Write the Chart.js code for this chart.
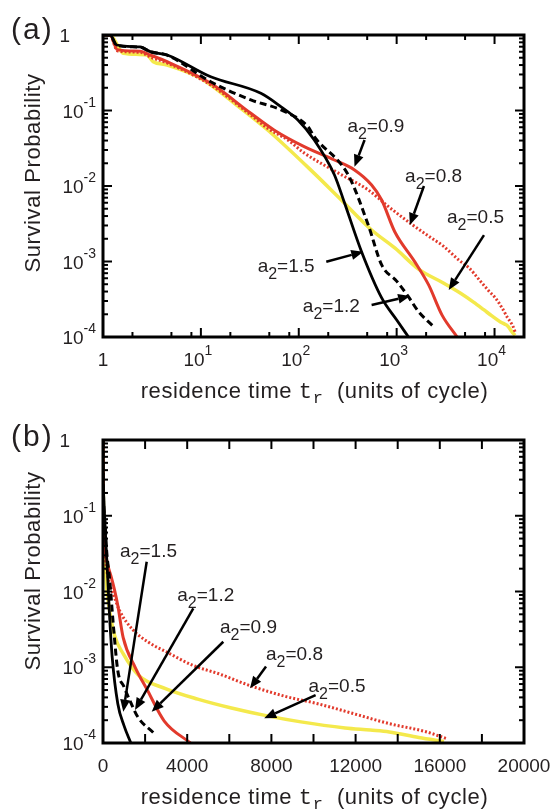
<!DOCTYPE html>
<html>
<head>
<meta charset="utf-8">
<script src="https://cdn.jsdelivr.net/npm/chart.js@4.4.1/dist/chart.umd.min.js"></script>
<style>
  html, body { margin: 0; padding: 0; background: #fff; }
  .panel { width: 556px; height: 405px; }
</style>
</head>
<body>
<div class="panel"><canvas id="chartA" width="556" height="405"></canvas></div>
<div class="panel"><canvas id="chartB" width="556" height="405"></canvas></div>
<script>
// residence time (cycles) and survival probability, one pair per a2
const t15 = [1, 1.18, 1.38, 2.4, 3.04, 4.52, 12.6, 41, 66, 98, 144, 231, 293, 438, 703, 1002, 1322];
const p15 = [1, 1, 0.737, 0.694, 0.601, 0.543, 0.28, 0.169, 0.112, 0.0749, 0.0407, 0.0141, 0.006, 0.00135, 0.00033, 0.000168, 0.0001];

const t12 = [1, 1.18, 1.38, 2.4, 3.04, 4.52, 12.6, 32.4, 66, 124, 144, 320, 513, 703, 1000, 1322, 1675, 2389];
const p12 = [1, 1, 0.73, 0.69, 0.6, 0.54, 0.24, 0.138, 0.1016, 0.061, 0.045, 0.014, 0.00304, 0.0009, 0.00055, 0.00034, 0.000216, 0.000137];

const t09 = [1, 1.18, 1.4, 2.4, 3.04, 4.52, 12.6, 32.4, 55.8, 113.6, 231, 371, 555, 703, 956, 1534, 2122, 2910, 4150];
const p09 = [1, 1, 0.64, 0.61, 0.543, 0.443, 0.229, 0.0918, 0.0552, 0.0332, 0.0221, 0.0163, 0.0103, 0.00653, 0.00248, 0.00099, 0.00049, 0.000195, 0.0001];

const t08 = [1, 1.18, 1.4, 2.4, 3.04, 4.52, 12.6, 32.4, 48.1, 77.3, 113.6, 252, 513, 800, 1430, 2200, 3000, 4300, 5500, 7000, 8700, 10200, 12000, 13600, 15300, 16300];
const p08 = [1, 1, 0.62, 0.59, 0.51, 0.426, 0.218, 0.0871, 0.0581, 0.0407, 0.0274, 0.0149, 0.00885, 0.0055, 0.0031, 0.0021, 0.0016, 0.00105, 0.00082, 0.00057, 0.00041, 0.00033, 0.00024, 0.00018, 0.000142, 0.000115];

const t05 = [1, 1.18, 1.61, 2.81, 3.26, 4.52, 9.93, 21.7, 48.1, 144, 252, 555, 964, 1700, 3000, 4500, 6100, 7750, 9400, 11500, 12700, 13600, 15000, 16200];
const p05 = [1, 1, 0.573, 0.543, 0.443, 0.401, 0.267, 0.126, 0.0552, 0.0147, 0.0072, 0.00261, 0.0015, 0.00078, 0.00052, 0.00038, 0.00029, 0.00023, 0.00019, 0.000158, 0.000148, 0.00014, 0.000118, 0.000105];

// tick labels
const yTickVals = [1, 0.1, 0.01, 0.001, 0.0001];
const yTickLabels = ['1', '10^-1', '10^-2', '10^-3', '10^-4'];
const xTickValsA = [1, 10, 100, 1000, 10000];
const xTickLabelsA = ['1', '10^1', '10^2', '10^3', '10^4'];
const xTickValsB = [0, 4000, 8000, 12000, 16000, 20000];
const xTickLabelsB = ['0', '4000', '8000', '12000', '16000', '20000'];

// labels with arrows, in data units: [t, p]
const notesA = [
  { val: '0.9', text: [314, 0.0519], tail: [470, 0.0407], head: [371, 0.018] },
  { val: '0.8', text: [1220, 0.0114], tail: [1900, 0.01], head: [1364, 0.00304] },
  { val: '0.5', text: [3273, 0.00324], tail: [7800, 0.00224], head: [3405, 0.00042] },
  { val: '1.5', text: [38, 0.000726], tail: [191, 0.00099], head: [456, 0.00135] },
  { val: '1.2', text: [110, 0.000216], tail: [555, 0.000265], head: [1373, 0.000349] }
];
const notesB = [
  { val: '1.5', text: [808, 0.0285], tail: [2076, 0.0247], head: [964, 0.000259] },
  { val: '1.2', text: [3530, 0.0075], tail: [4290, 0.006], head: [1520, 0.000273] },
  { val: '0.9', text: [5559, 0.00283], tail: [5715, 0.00217], head: [2314, 0.000259] },
  { val: '0.8', text: [7744, 0.00125], tail: [7744, 0.00102], head: [6984, 0.000527] },
  { val: '0.5', text: [9763, 0.000475], tail: [10100, 0.00043], head: [7659, 0.000212] }
];

const SANS = '"Liberation Sans", Arial, Helvetica, sans-serif';
const MONO = '"Liberation Mono", "DejaVu Sans Mono", monospace';
const INK = '#231f20';
const RED = '#e23a2c';
const YELLOW = '#f4e94c';

const series = [
  { t: t15, p: p15, color: '#000', width: 2.8, dash: [] },
  { t: t12, p: p12, color: '#000', width: 3, dash: [7, 4] },
  { t: t09, p: p09, color: RED, width: 3, dash: [] },
  { t: t08, p: p08, color: RED, width: 3, dash: [2, 2] },
  { t: t05, p: p05, color: YELLOW, width: 3.5, dash: [] }
];

function datasets() {
  return series.map(s => ({
    data: s.t.map((t, i) => ({ x: t, y: s.p[i] })),
    borderColor: s.color,
    borderWidth: s.width,
    borderDash: s.dash,
    pointRadius: 0,
    cubicInterpolationMode: 'monotone',
    fill: false
  }));
}

function drawRuns(ctx, runs, x, y, align) {
  let w = 0;
  runs.forEach(r => { ctx.font = r.font; w += ctx.measureText(r.t).width; });
  let cx = align === 'right' ? x - w : align === 'center' ? x - w / 2 : x;
  runs.forEach(r => {
    ctx.font = r.font;
    ctx.fillText(r.t, cx, y + (r.dy || 0));
    cx += ctx.measureText(r.t).width;
  });
}

function powRuns(label) {
  const [base, exp] = label.split('^');
  const runs = [{ t: base, font: '19px ' + SANS }];
  if (exp) runs.push({ t: exp, font: '14px ' + SANS, dy: -11 });
  return runs;
}

function arrow(ctx, x1, y1, x2, y2) {
  const ang = Math.atan2(y2 - y1, x2 - x1);
  const len = 12, half = 5;
  const bx = x2 - len * Math.cos(ang), by = y2 - len * Math.sin(ang);
  ctx.lineWidth = 2.5;
  ctx.beginPath(); ctx.moveTo(x1, y1); ctx.lineTo(bx, by); ctx.stroke();
  ctx.beginPath();
  ctx.moveTo(x2, y2);
  ctx.lineTo(bx + half * Math.sin(ang), by - half * Math.cos(ang));
  ctx.lineTo(bx - half * Math.sin(ang), by + half * Math.cos(ang));
  ctx.closePath(); ctx.fill();
}

const deco = {
  id: 'deco',
  afterDatasetsDraw(chart, args, o) {
    const { ctx, chartArea: a } = chart;
    const xs = chart.scales.x, ys = chart.scales.y;
    ctx.save();
    ctx.strokeStyle = '#000';
    ctx.fillStyle = '#000';
    ctx.lineWidth = 2;
    const tick = (x1, y1, x2, y2) => { ctx.beginPath(); ctx.moveTo(x1, y1); ctx.lineTo(x2, y2); ctx.stroke(); };

    // y ticks (log), both sides
    for (let d = -4; d <= 0; d++) {
      const py = ys.getPixelForValue(Math.pow(10, d));
      tick(a.left, py, a.left + 9, py);
      tick(a.right, py, a.right - 9, py);
      if (d === 0) continue;
      for (let m = 2; m <= 9; m++) {
        const my = ys.getPixelForValue(m * Math.pow(10, d));
        tick(a.left, my, a.left + 5, my);
        tick(a.right, my, a.right - 5, my);
      }
    }

    // x ticks
    o.xMajor.forEach(v => {
      const px = xs.getPixelForValue(v);
      tick(px, a.bottom, px, a.bottom - 9);
      tick(px, a.top, px, a.top + 9);
    });
    o.xMinorBottom.forEach(v => {
      const px = xs.getPixelForValue(v);
      tick(px, a.bottom, px, a.bottom - 5);
    });
    o.xMinorTop.forEach(v => {
      const px = xs.getPixelForValue(v);
      tick(px, a.top, px, a.top + 5);
    });

    // frame
    ctx.lineWidth = 3;
    ctx.strokeRect(a.left, a.top, a.right - a.left, a.bottom - a.top);

    // tick labels
    ctx.fillStyle = INK;
    ctx.textBaseline = 'alphabetic';
    ctx.textAlign = 'left';
    yTickVals.forEach((v, i) => {
      const py = ys.getPixelForValue(v) + 7;
      if (yTickLabels[i] === '1') drawRuns(ctx, powRuns('1'), a.left - 33, py, 'right');
      else drawRuns(ctx, powRuns(yTickLabels[i]), a.left - 7, py, 'right');
    });
    o.xVals.forEach((v, i) => {
      const px = xs.getPixelForValue(v);
      const lab = o.xLabels[i];
      drawRuns(ctx, powRuns(lab), px - (lab.includes('^') ? 3 : 0), a.bottom + 29, 'center');
    });

    // axis titles
    ctx.letterSpacing = '0.6px';
    drawRuns(ctx, [
      { t: 'residence time ', font: '22px ' + SANS },
      { t: 't', font: '22px ' + MONO },
      { t: 'r', font: '17px ' + MONO, dy: 5 },
      { t: '  (units of cycle)', font: '22px ' + SANS }
    ], (a.left + a.right) / 2 + 1, a.bottom + 61, 'center');

    ctx.save();
    ctx.translate(40, o.titleY);
    ctx.rotate(-Math.PI / 2);
    drawRuns(ctx, [{ t: 'Survival Probability', font: '22px ' + SANS }], 0, 0, 'center');
    ctx.restore();

    ctx.letterSpacing = '2px';
    drawRuns(ctx, [{ t: o.tag, font: '30px ' + SANS }], 11, o.tagY, 'left');
    ctx.letterSpacing = '0px';

    // annotations
    ctx.strokeStyle = '#000';
    o.notes.forEach(n => {
      ctx.fillStyle = INK;
      drawRuns(ctx, [
        { t: 'a', font: '19px ' + SANS },
        { t: '2', font: '16px ' + SANS, dy: 7 },
        { t: '=' + n.val, font: '19px ' + SANS }
      ], xs.getPixelForValue(n.text[0]), ys.getPixelForValue(n.text[1]), 'left');
      ctx.fillStyle = '#000';
      arrow(ctx,
        xs.getPixelForValue(n.tail[0]), ys.getPixelForValue(n.tail[1]),
        xs.getPixelForValue(n.head[0]), ys.getPixelForValue(n.head[1]));
    });
    ctx.restore();
  }
};

function decadeTicks(mults, max) {
  const out = [];
  for (let d = 0; d <= 4; d++) mults.forEach(m => { const v = m * Math.pow(10, d); if (v < max) out.push(v); });
  return out;
}

const common = {
  responsive: false,
  animation: false,
  events: [],
  plugins: { legend: { display: false }, tooltip: { enabled: false } }
};

new Chart(document.getElementById('chartA'), {
  type: 'line',
  data: { datasets: datasets() },
  options: {
    ...common,
    layout: { padding: { left: 103, top: 35, right: 32, bottom: 68 } },
    scales: {
      x: { type: 'logarithmic', min: 1, max: 20000, display: false },
      y: { type: 'logarithmic', min: 0.0001, max: 1, display: false }
    },
    plugins: {
      ...common.plugins,
      deco: {
        xVals: xTickValsA, xLabels: xTickLabelsA,
        xMajor: [10, 100, 1000, 10000],
        xMinorBottom: decadeTicks([2, 5, 8], 20000),
        xMinorTop: decadeTicks([2, 5], 20000),
        notes: notesA, tag: '(a)', tagY: 39, titleY: 173
      }
    }
  },
  plugins: [deco]
});

new Chart(document.getElementById('chartB'), {
  type: 'line',
  data: { datasets: datasets() },
  options: {
    ...common,
    layout: { padding: { left: 103, top: 35, right: 32, bottom: 67 } },
    scales: {
      x: { type: 'linear', min: 0, max: 20000, display: false },
      y: { type: 'logarithmic', min: 0.0001, max: 1, display: false }
    },
    plugins: {
      ...common.plugins,
      deco: {
        xVals: xTickValsB, xLabels: xTickLabelsB,
        xMajor: [2000, 4000, 6000, 8000, 10000, 12000, 14000, 16000, 18000],
        xMinorBottom: [], xMinorTop: [],
        notes: notesB, tag: '(b)', tagY: 41, titleY: 166
      }
    }
  },
  plugins: [deco]
});
</script>
</body>
</html>
